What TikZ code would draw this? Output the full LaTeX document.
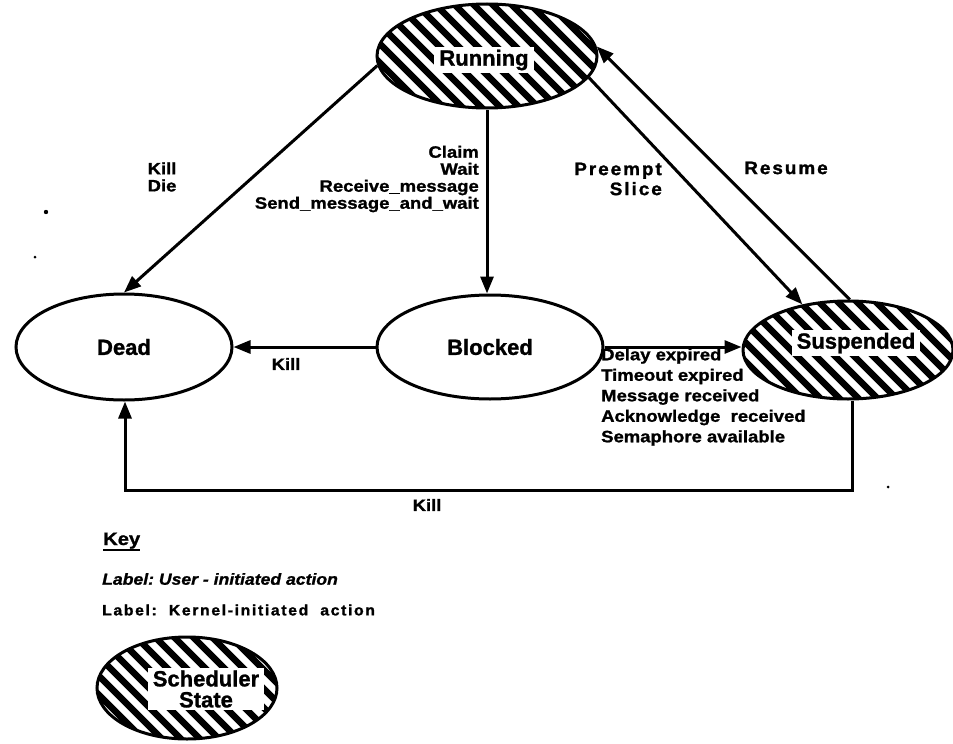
\documentclass[tikz,border=0pt]{standalone}
\usepackage{fontspec}
\setmainfont{Liberation Sans}
\newfontfamily\statefam{Liberation Sans}[FakeBold=1.2]
\newfontfamily\lblfam{Liberation Sans}[FakeStretch=1.12,FakeBold=1.2]
\newfontfamily\usrfam{Liberation Sans}[FakeStretch=1.1,FakeBold=1.0]
\newfontfamily\kernfam{Liberation Sans}[FakeStretch=1.05,LetterSpace=11,FakeBold=1.4]
\usetikzlibrary{shapes.geometric,arrows.meta}

\tikzset{
  state/.style={ellipse, draw, line width=3pt, fill=white, inner sep=0pt,
    font=\statefam\bfseries\fontsize{22}{24}\selectfont},
  hatched/.style={state, path picture={
    \foreach \k in {-12,...,12}{
      \draw[line width=6.5pt]
        ([shift={(\k*19pt-90pt,90pt)}]path picture bounding box.center)
        -- ++(180pt,-180pt);
    }}},
  boxname/.style={fill=white, inner xsep=5pt, inner ysep=3pt,
    font=\statefam\bfseries\fontsize{22}{24}\selectfont},
  arr/.style={line width=3pt, -{Triangle[length=17pt,width=13pt]}},
  usr/.style={inner sep=0pt, font=\lblfam\bfseries\fontsize{16.5}{17}\selectfont},
  kern/.style={inner sep=0pt, font=\kernfam\bfseries\fontsize{18}{20}\selectfont},
  speck/.style={fill=black}
}

\begin{document}
\begin{tikzpicture}[x=1pt,y=-1pt]
\useasboundingbox (0,0) rectangle (953,744);
\fill[white] (0,0) rectangle (953,744);

% ---- states ----
\node[hatched, minimum width=220pt, minimum height=104pt] (run) at (487,56) {};
\node[boxname] (runt) at (484,60) {Running};

\node[state, minimum width=216pt, minimum height=106pt] (dead) at (124,347) {Dead};
\node[state, minimum width=226pt, minimum height=104pt] (blk) at (490,347) {Blocked};

\node[hatched, minimum width=210pt, minimum height=98pt] (sus) at (848,350) {};
\node[boxname] (sust) at (856,343) {Suspended};

% ---- transitions ----
\draw[arr] (run.185) -- (dead.north);
\draw[arr] (run.south) -- (run.south |- blk.north);
\draw[arr] (blk.west) -- (dead.east);
\draw[arr] (blk.east) -- (blk.east -| sus.west);
\draw[arr] (run.-12) -- (sus.135);
\draw[arr] (sus.88) -- (run.5);
\coordinate (kr) at (852,490);
\coordinate (kl) at (125,490);
\draw[arr] (kr |- sus.south) -- (kr) -- (kl) -- (kl |- dead.south);

% ---- transition labels ----
\node[usr, align=left] (lkd) at (162,177) {Kill\\Die};
\node[usr, align=right, anchor=east] (lcl) at (479,179)
  {Claim\\Wait\\Receive\_message\\Send\_message\_and\_wait};
\node[usr] (lkb) at (286,364) {Kill};
\node[usr, align=left, anchor=west, font=\lblfam\bfseries\fontsize{16.5}{20.5}\selectfont]
  (ldl) at (601,397)
  {Delay expired\\Timeout expired\\Message received\\Acknowledge\ \ received\\Semaphore available};
\node[usr] (lkk) at (427,505) {Kill};
\node[kern, align=right, anchor=east] (lps) at (662,179) {Preempt\\Slice};
\node[kern] (lrs) at (786,168) {Resume};

% ---- key ----
\node[anchor=base west, inner sep=0pt, font=\lblfam\bfseries\fontsize{18}{20}\selectfont]
  (key) at (103,545) {Key};
\draw[line width=2.5pt] ([yshift=-5pt]key.base west) -- ([yshift=-5pt]key.base east);
\node[anchor=west, inner sep=0pt, font=\usrfam\bfseries\itshape\fontsize{16}{18}\selectfont]
  (kusr) at (102,579) {Label:\ User - initiated action};
\node[anchor=west, inner sep=0pt, font=\kernfam\bfseries\fontsize{15}{18}\selectfont]
  (kker) at (102,610) {Label:\ \ Kernel-initiated\ \ action};

\node[hatched, minimum width=180pt, minimum height=102pt] (sch) at (187,688) {};
\node[boxname, align=center, inner ysep=2pt, font=\statefam\bfseries\fontsize{22}{21}\selectfont]
  (scht) at (206,689) {Scheduler\\State};

% ---- specks ----
\fill[speck] (46,212) circle (2.2pt);
\fill[speck] (35,257) circle (1.5pt);
\fill[speck] (888,487) circle (1.5pt);
\end{tikzpicture}
\end{document}
